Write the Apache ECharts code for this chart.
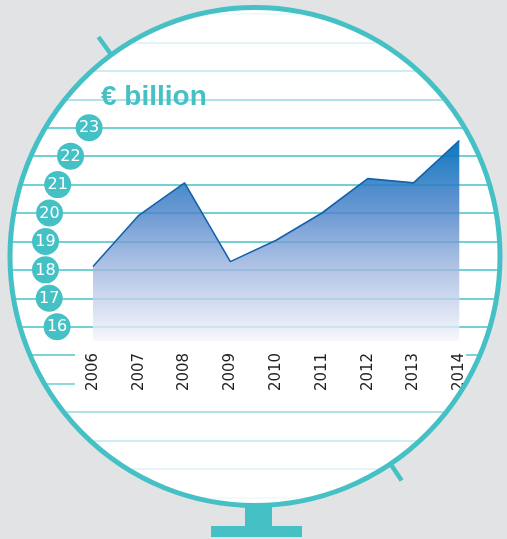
<!DOCTYPE html>
<html>
<head>
<meta charset="utf-8">
<script src="https://cdn.jsdelivr.net/npm/echarts@6/dist/echarts.min.js"></script>
<style>
html,body{margin:0;padding:0;background:#e1e3e4;}
#chart{width:507px;height:539px;}
</style>
</head>
<body>
<div id="chart"></div>
<script>
// ---- data ----
const years = ['2006', '2007', '2008', '2009', '2010', '2011', '2012', '2013', '2014'];
const values = [18.12, 19.92, 21.06, 18.29, 19.04, 20.0, 21.21, 21.06, 22.55];
const yTickLabels = [16, 17, 18, 19, 20, 21, 22, 23];
const unitText = '€ billion';
const ruleMin = 10;
const ruleMax = 27;
const chartMin = 15.5;

// ---- style / layout ----
const TEAL = '#45c1c6';
const GRAY = '#e1e3e4';
const CX = 255, CY = 256.5, RX = 245, RY = 249;
const TOP = 14, UNIT = 28.43;
const LABEL_ARC = 210;
const ruleColors = [
  '#eef9fa', '#dcf2f3', '#bfe8ea', '#97dadd', '#6dcdd1', '#55c5ca',
  TEAL, TEAL, TEAL, TEAL, TEAL, TEAL, TEAL, TEAL,
  '#98d9dc', '#bde7e9', '#d8f1f2', '#ebf8f9'
];

function ellipsePath(cx, cy, rx, ry) {
  return 'M' + (cx - rx) + ' ' + cy +
    ' A' + rx + ' ' + ry + ' 0 1 0 ' + (cx + rx) + ' ' + cy +
    ' A' + rx + ' ' + ry + ' 0 1 0 ' + (cx - rx) + ' ' + cy + ' Z';
}
function tickPts(deg, len) {
  const a = deg * Math.PI / 180;
  const c = Math.cos(a), s = Math.sin(a);
  return [CX + RX * c, CY + RY * s, CX + (RX + len) * c, CY + (RY + len) * s];
}
const t1 = tickPts(-125.9, 22);
const t2 = tickPts(56.4, 20);

const chart = echarts.init(document.getElementById('chart'));
chart.setOption({
  backgroundColor: '#ffffff',
  animation: false,
  grid: [
    { left: 0, width: 507, top: TOP, height: (ruleMax - ruleMin) * UNIT, containLabel: false, outerBoundsMode: 'none' },
    { left: 93, width: 366.3, top: TOP, height: (ruleMax - chartMin) * UNIT, containLabel: false, outerBoundsMode: 'none' }
  ],
  xAxis: [
    { gridIndex: 0, type: 'value', min: 0, max: 507, show: false },
    {
      gridIndex: 1, type: 'category', data: years, boundaryGap: false, z: 3,
      axisLine: { show: false }, axisTick: { show: false }, splitLine: { show: false },
      axisLabel: {
        rotate: 90, margin: 12, color: '#231f20', fontSize: 15,
        fontFamily: 'DejaVu Sans', padding: [0, 0, 7, 0]
      }
    }
  ],
  yAxis: [
    {
      gridIndex: 0, type: 'value', min: ruleMin, max: ruleMax, interval: 1,
      axisLine: { show: false }, axisTick: { show: false }, axisLabel: { show: false },
      splitLine: { show: true, lineStyle: { color: ruleColors, width: 1.6 } }
    },
    {
      gridIndex: 1, type: 'value', min: chartMin, max: ruleMax, show: false,
      splitLine: { show: false }
    }
  ],
  series: [
    {
      type: 'line', xAxisIndex: 1, yAxisIndex: 1, data: values,
      symbol: 'none', z: 2,
      lineStyle: { color: '#1462ab', width: 1.6 },
      areaStyle: {
        opacity: 1,
        color: {
          type: 'linear', x: 0, y: 0, x2: 0, y2: 1,
          colorStops: [
            { offset: 0, color: 'rgba(0,112,188,0.95)' },
            { offset: 0.35, color: 'rgba(73,129,200,0.82)' },
            { offset: 0.65, color: 'rgba(161,184,224,0.8)' },
            { offset: 1, color: 'rgba(244,245,251,0.8)' }
          ]
        }
      }
    },
    {
      type: 'custom', xAxisIndex: 0, yAxisIndex: 0, z: 5, silent: true, clip: false,
      data: [[0, ruleMin]],
      renderItem: function () {
        return {
          type: 'group',
          children: [
            { type: 'path', shape: { pathData: 'M0 0 H507 V539 H0 Z ' + ellipsePath(CX, CY, RX, RY) }, style: { fill: GRAY } },
            { type: 'path', shape: { pathData: ellipsePath(CX, CY, RX, RY) }, style: { fill: 'none', stroke: TEAL, lineWidth: 5 } },
            { type: 'line', shape: { x1: t1[0], y1: t1[1], x2: t1[2], y2: t1[3] }, style: { stroke: TEAL, lineWidth: 4.5 } },
            { type: 'line', shape: { x1: t2[0], y1: t2[1], x2: t2[2], y2: t2[3] }, style: { stroke: TEAL, lineWidth: 4.5 } },
            { type: 'rect', shape: { x: 245, y: 503, width: 27, height: 24 }, style: { fill: TEAL } },
            { type: 'rect', shape: { x: 211, y: 526, width: 91, height: 11 }, style: { fill: TEAL } }
          ]
        };
      }
    },
    {
      type: 'custom', xAxisIndex: 0, yAxisIndex: 0, z: 10, silent: true, clip: false,
      data: yTickLabels.map(v => [0, v]),
      renderItem: function (params, api) {
        const v = api.value(1);
        const y = api.coord([0, v])[1];
        const dy = y - CY;
        const x = CX - Math.sqrt(LABEL_ARC * LABEL_ARC - dy * dy);
        return {
          type: 'group',
          children: [
            { type: 'circle', shape: { cx: x, cy: y, r: 13.5 }, style: { fill: TEAL } },
            {
              type: 'text',
              style: {
                text: String(v), x: x, y: y + 0.5,
                align: 'center', verticalAlign: 'middle',
                textAlign: 'center', textVerticalAlign: 'middle',
                fill: '#ffffff', font: '16px "DejaVu Sans"'
              }
            }
          ]
        };
      }
    }
  ],
  graphic: [
    { type: 'rect', z: 1, silent: true, shape: { x: 75, y: 343, width: 391, height: 53 }, style: { fill: '#ffffff' } },
    {
      type: 'text', z: 10, silent: true,
      style: {
        text: unitText, x: 101, y: 97.5,
        align: 'left', verticalAlign: 'middle',
        textAlign: 'left', textVerticalAlign: 'middle',
        fill: TEAL, font: 'bold 28px "Liberation Sans"'
      }
    }
  ]
});
</script>
</body>
</html>
